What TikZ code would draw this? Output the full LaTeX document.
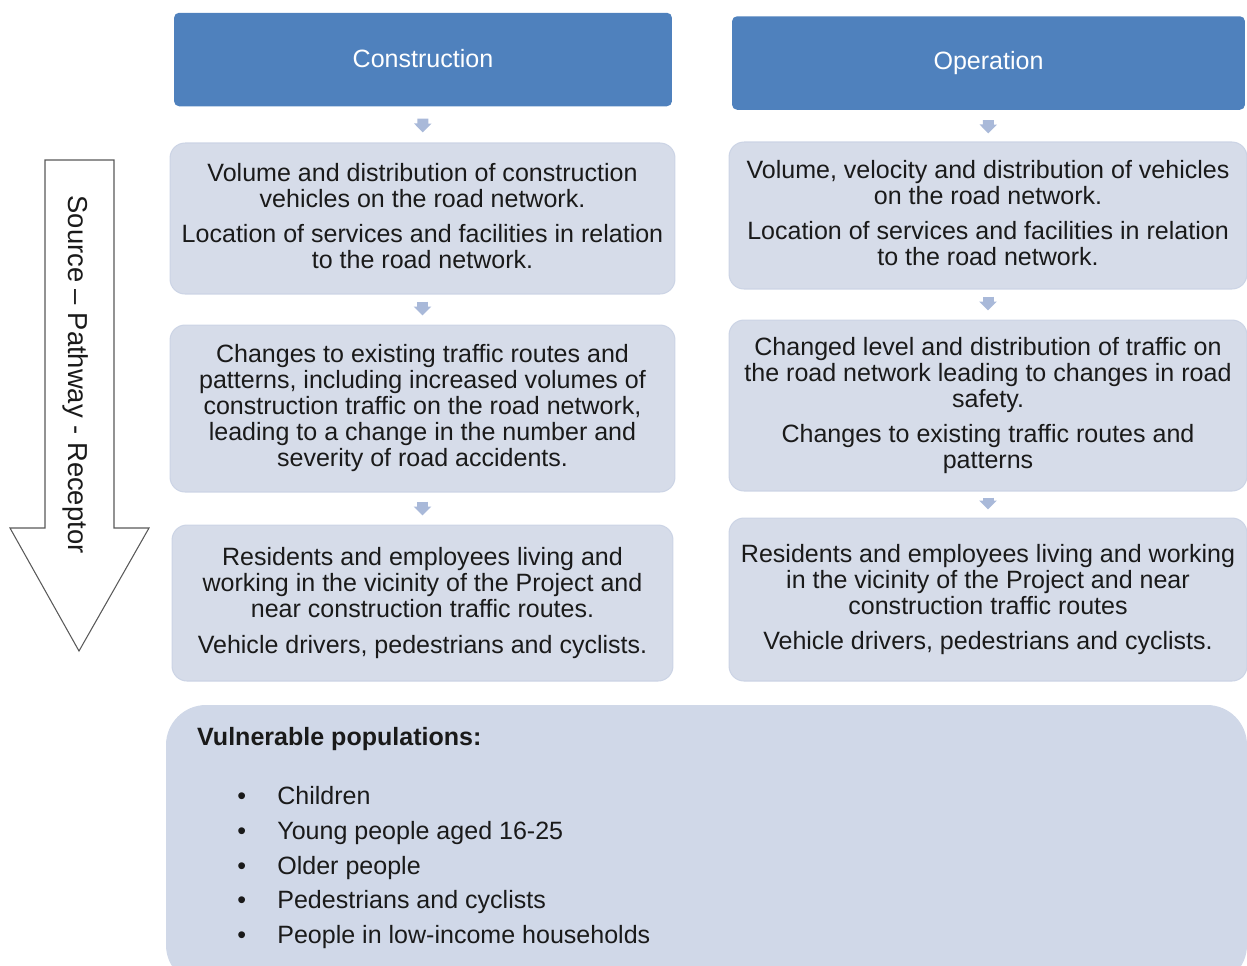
\documentclass[tikz,border=0pt]{standalone}
\usepackage{fontspec}
\setmainfont{Liberation Sans}
\usepackage{tikz}
\usetikzlibrary{arrows.meta,positioning,calc}
\usepackage{xcolor}

\definecolor{headblue}{HTML}{4F81BD}
\definecolor{boxfill}{HTML}{D6DCE9}
\definecolor{boxline}{HTML}{CCD4E5}
\definecolor{vulnfill}{HTML}{D0D8E8}
\definecolor{flowblue}{HTML}{A9B9D9}
\definecolor{txt}{HTML}{1A1A1A}

\begin{document}
\begin{tikzpicture}[x=0.02cm, y=-0.02cm,
    every node/.style={font=\fontsize{14.25}{14.8}\selectfont, text=txt},
    headbox/.style={fill=headblue, rounded corners=0.1cm, text=white, minimum height=1.87cm},
    stagebox/.style={fill=boxfill, draw=boxline, line width=0.6pt, rounded corners=0.3cm, align=center},
    flow/.style={draw=flowblue, line width=0.22cm, -{Triangle[width=0.34cm, length=0.18cm]}}]
    \useasboundingbox (0,0) rectangle (1247,965);
    \clip (0,0) rectangle (1247,965);

    % column headers
    \node[headbox, minimum width=9.96cm] (conhead) at (423,59.5) {\raisebox{1.5pt}{Construction}};
    \node[headbox, minimum width=10.26cm] (ophead) at (988.5,63) {\raisebox{1pt}{Operation}};

    % construction column
    \node[stagebox, minimum width=10.1cm, minimum height=3.02cm] (con1) at (422.5,218.5)
        {Volume and distribution of construction\\vehicles on the road network.\\[5.5pt]Location of services and facilities in relation\\to the road network.\\[-12pt]};
    \node[stagebox, minimum width=10.1cm, minimum height=3.34cm] (con2) at (422.5,408.5)
        {Changes to existing traffic routes and\\patterns, including increased volumes of\\construction traffic on the road network,\\leading to a change in the number and\\severity of road accidents.};
    \node[stagebox, minimum width=10.02cm, minimum height=3.12cm] (con3) at (422.5,603)
        {Residents and employees living and\\working in the vicinity of the Project and\\near construction traffic routes.\\[5.5pt]Vehicle drivers, pedestrians and cyclists.};

    % operation column
    \node[stagebox, minimum width=10.36cm, minimum height=2.94cm] (op1) at (988,215.5)
        {Volume, velocity and distribution of vehicles\\on the road network.\\[5.5pt]Location of services and facilities in relation\\to the road network.\\[-12pt]};
    \node[stagebox, minimum width=10.36cm, minimum height=3.42cm] (op2) at (988,405.5)
        {Changed level and distribution of traffic on\\the road network leading to changes in road\\safety.\\[5.5pt]Changes to existing traffic routes and\\patterns};
    \node[stagebox, minimum width=10.36cm, minimum height=3.26cm] (op3) at (988,599.5)
        {Residents and employees living and working\\in the vicinity of the Project and near\\construction traffic routes\\[5.5pt]Vehicle drivers, pedestrians and cyclists.};

    \draw[flow, shorten <=0.24cm, shorten >=0.2cm] (conhead) -- (con1);
    \draw[flow, shorten <=0.14cm, shorten >=0.18cm] (con1) -- (con2);
    \draw[flow, shorten <=0.18cm, shorten >=0.18cm] (con2) -- (con3);
    \draw[flow, shorten <=0.2cm, shorten >=0.16cm] (ophead) -- (op1);
    \draw[flow, shorten <=0.14cm, shorten >=0.18cm] (op1) -- (op2);
    \draw[flow, shorten <=0.12cm, shorten >=0.16cm] (op2) -- (op3);

    % source - pathway - receptor arrow
    \draw[draw=black!65, line width=0.6pt, fill=white] (45,160) -- (114,160) -- (114,528) -- (149,528)
        -- (79,651) -- (10,528) -- (45,528) -- cycle;
    \node[rotate=-90, font=\fontsize{15.6}{16}\selectfont] (sprlabel) at (76,374.5) {Source -- Pathway - Receptor};

    % vulnerable populations
    \fill[vulnfill, rounded corners=0.8cm] (166,705) rectangle (1247,985);
    \node[anchor=west, font=\fontsize{14.25}{14.8}\selectfont\bfseries] (vulnhead) at (191,739) {Vulnerable populations:};
    \node[anchor=north west, align=left, inner sep=0pt, font=\fontsize{14.25}{19.8}\selectfont] (vulnlist) at (237,786)
        {\makebox[0.8cm][l]{\textbullet}Children\\
         \makebox[0.8cm][l]{\textbullet}Young people aged 16-25\\
         \makebox[0.8cm][l]{\textbullet}Older people\\
         \makebox[0.8cm][l]{\textbullet}Pedestrians and cyclists\\
         \makebox[0.8cm][l]{\textbullet}People in low-income households};
\end{tikzpicture}
\end{document}
